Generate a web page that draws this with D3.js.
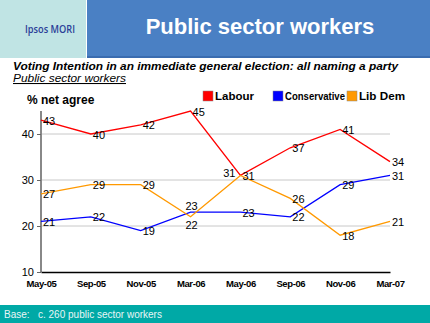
<!DOCTYPE html>
<html><head><meta charset="utf-8">
<script src="https://cdn.jsdelivr.net/npm/d3@7"></script>
<style>body{margin:0;background:#fff}svg{display:block;font-family:"Liberation Sans",Arial,sans-serif}</style>
</head><body>
<svg id="c" width="430" height="323"></svg>
<script>
const categories = ["May-05","Sep-05","Nov-05","Mar-06","May-06","Sep-06","Nov-06","Mar-07"];
const labour = [43,40,42,45,31,37,41,34];
const conservative = [21,22,19,23,23,22,29,31];
const libdem = [27,29,29,22,31,26,18,21];
const yTicks = [10,20,30,40];
const seriesNames = ["Labour","Conservative","Lib Dem"];
const seriesColors = ["#ff0000","#0000ff","#ff9900"];
// label placement per point: r = right, l = left, a = above, b = below
const labourPos = ["r","r","r","r","l","r","r","r"];
const consPos = ["r","r","r","a","r","r","r","r"];
const libPos = ["r","r","r","b","r","r","r","r"];

const svg = d3.select("#c");
// header
svg.append("rect").attr("x",0).attr("y",0).attr("width",86).attr("height",58).attr("fill","#c0e4e4");
svg.append("rect").attr("x",87).attr("y",0).attr("width",343).attr("height",58).attr("fill","#4a80c4");
svg.append("rect").attr("x",87).attr("y",56).attr("width",343).attr("height",2).attr("fill","#3a6cb0");
svg.append("text").attr("x",25).attr("y",33).attr("font-size",11).attr("font-weight",600)
  .attr("font-family","'Open Sans',sans-serif").attr("fill","#2b3f98").attr("textLength",50)
  .attr("lengthAdjust","spacingAndGlyphs").text("Ipsos MORI");
svg.append("text").attr("x",260).attr("y",34).attr("text-anchor","middle").attr("font-size",22).attr("font-weight","bold")
  .attr("fill","#fff").text("Public sector workers");
// subtitles
svg.append("text").attr("x",13).attr("y",70).attr("font-size",11.5).attr("font-weight","bold").attr("font-style","italic")
  .attr("textLength",385).attr("lengthAdjust","spacingAndGlyphs")
  .text("Voting Intention in an immediate general election: all naming a party");
svg.append("text").attr("x",13).attr("y",82).attr("font-size",10.5).attr("font-style","italic")
  .attr("text-decoration","underline").attr("textLength",113).attr("lengthAdjust","spacingAndGlyphs").text("Public sector workers");
svg.append("text").attr("x",27).attr("y",104).attr("font-size",12).attr("font-weight","bold").text("% net agree");

// legend
const legX = [203,273,347];
const legW = [39,60,46];
seriesNames.forEach((n,i)=>{
  svg.append("rect").attr("x",legX[i]).attr("y",91).attr("width",10).attr("height",10)
    .attr("fill",seriesColors[i]).attr("stroke","#888").attr("stroke-width",0.5);
  svg.append("text").attr("x",legX[i]+12).attr("y",100).attr("font-size",10.5).attr("font-weight","bold")
    .attr("textLength",legW[i]).attr("lengthAdjust","spacingAndGlyphs").text(n);
});

const x = d3.scalePoint().domain(categories).range([41,390]);
const y = d3.scaleLinear().domain([10,45]).range([272,111]);

// gridlines
svg.append("g").selectAll("line").data(yTicks.filter(t=>t>10)).join("line")
  .attr("x1",41).attr("x2",390).attr("y1",d=>y(d)).attr("y2",d=>y(d)).attr("stroke","#c8c8c8").attr("stroke-width",1);

// y axis
const ya = svg.append("g").attr("transform","translate(41,0)")
  .call(d3.axisLeft(y).tickValues(yTicks).tickSize(4).tickPadding(3).tickFormat(d3.format("d")));
ya.select(".domain").attr("stroke","#888").attr("stroke-width",2).attr("d","M0,111V272");
ya.selectAll(".tick line").attr("stroke","#666");
ya.selectAll("text").attr("font-size",11).attr("font-family","'Liberation Sans',Arial,sans-serif").attr("fill","#000");

// x axis
const xa = svg.append("g").attr("transform","translate(0,272)")
  .call(d3.axisBottom(x).tickSize(0).tickPadding(8));
xa.select(".domain").attr("stroke","#000").attr("stroke-width",1.5);
xa.selectAll("text").attr("font-size",9.5).attr("font-weight","bold").attr("letter-spacing","-0.4")
  .attr("font-family","'Liberation Sans',Arial,sans-serif").attr("fill","#000");

const line = d3.line().x((d,i)=>x(categories[i])).y(d=>y(d));
const allSeries = [labour,conservative,libdem];
const allPos = [labourPos,consPos,libPos];
allSeries.forEach((s,k)=>{
  svg.append("path").datum(s).attr("d",line).attr("fill","none").attr("stroke",seriesColors[k]).attr("stroke-width",1.3);
});
allSeries.forEach((s,k)=>{
  svg.append("g").selectAll("text").data(s).join("text")
    .attr("font-size",11).attr("fill","#000")
    .attr("x",(d,i)=>{const p=allPos[k][i]; const px=x(categories[i]);
       if(p==="l") return px-5; if(p==="a"||p==="b") return px+1; return px+2;})
    .attr("y",(d,i)=>{const p=allPos[k][i]; const py=y(d);
       if(p==="a") return py-2; if(p==="b") return py+12; if(p==="l") return py+2; return py+4.5;})
    .attr("text-anchor",(d,i)=>{const p=allPos[k][i]; return p==="l"?"end":(p==="a"||p==="b")?"middle":"start";})
    .text(d=>d);
});

// footer
svg.append("rect").attr("x",0).attr("y",305).attr("width",430).attr("height",18).attr("fill","#00a9a6");
svg.append("text").attr("x",4).attr("y",318).attr("font-size",10).attr("fill","#e8f6f6").text("Base:");
svg.append("text").attr("x",38).attr("y",318).attr("font-size",10).attr("fill","#e8f6f6").text("c. 260 public sector workers");
</script>
</body></html>
